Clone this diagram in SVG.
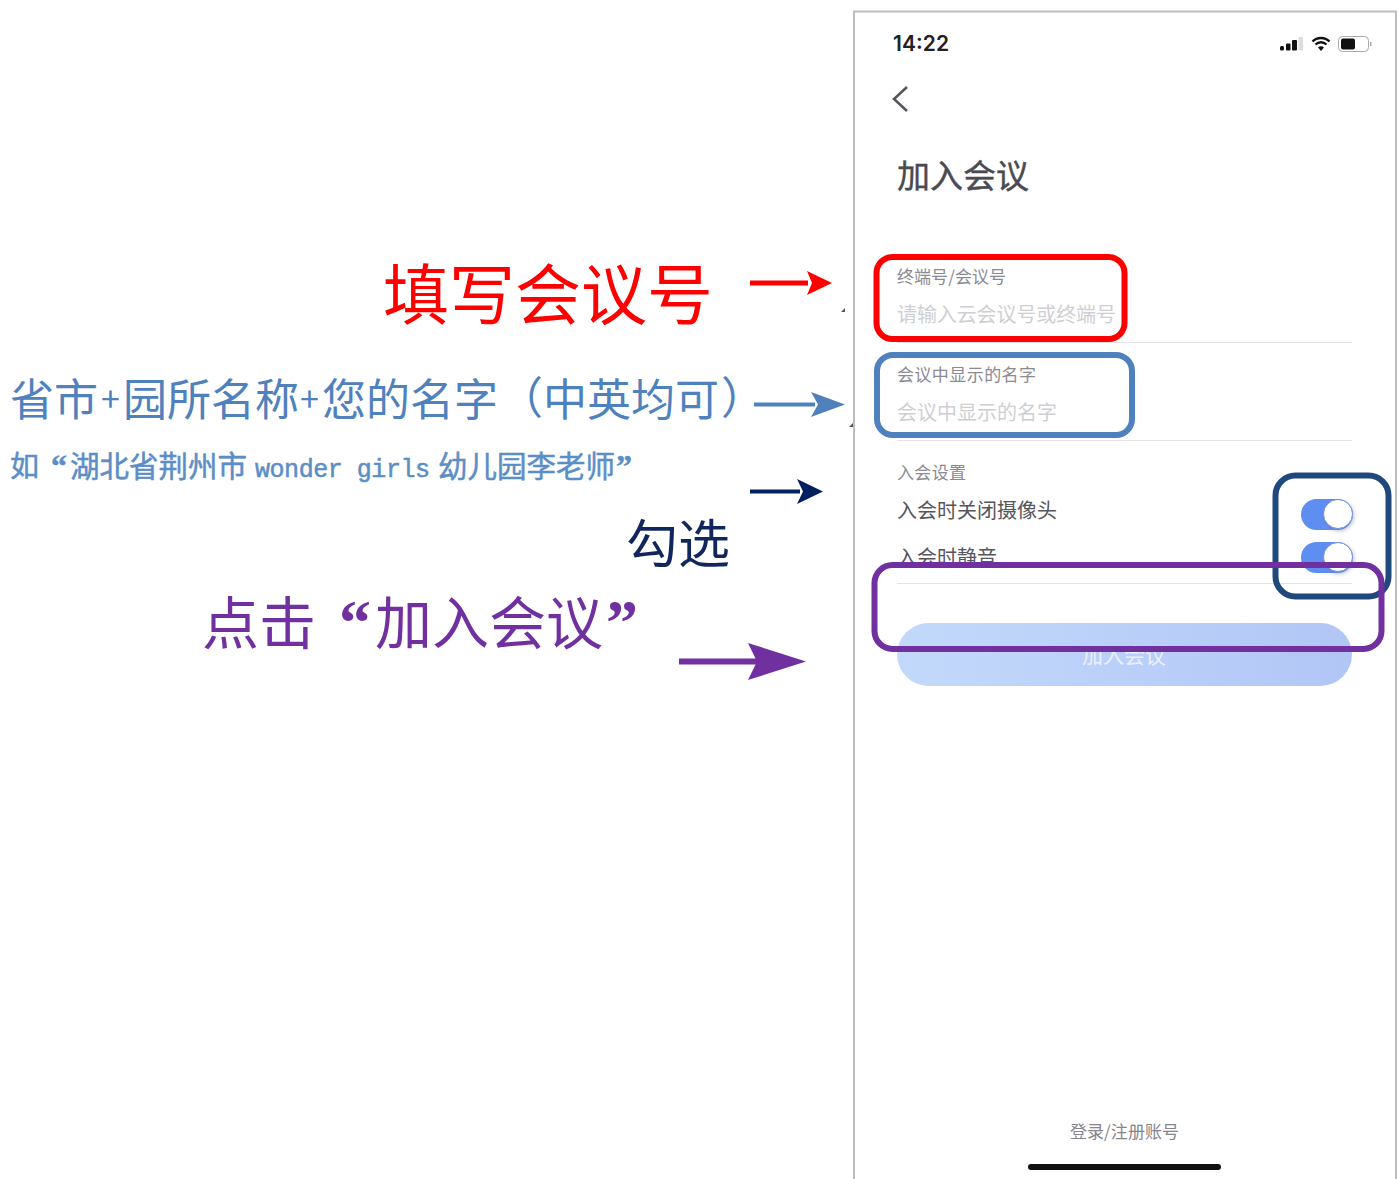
<svg xmlns="http://www.w3.org/2000/svg" width="1400" height="1179" viewBox="0 0 1400 1179">
<style>
text{font-family:"Noto Sans CJK SC","Noto Sans",sans-serif}
.box{fill:none;stroke-width:6}
.rule{stroke:#e4e4e6;stroke-width:1.2}
.lab{font-size:17px;fill:#8a8a90}
.ph{font-size:20px;fill:#cfcfd3}
.row{font-size:20px;fill:#55555c}
.arrow{fill:none;stroke-width:4}
.q{font-family:"Liberation Serif",serif;font-weight:700}
</style>
<defs>
<linearGradient id="btn" x1="0" x2="1" y1="0" y2="0"><stop offset="0" stop-color="#c3d9fb"/><stop offset="1" stop-color="#b2c6f6"/></linearGradient>
<filter id="sh" x="-30%" y="-30%" width="160%" height="160%"><feDropShadow dx="1" dy="2" stdDeviation="2" flood-color="#6a7690" flood-opacity=".45"/></filter>
</defs>
<rect width="1400" height="1179" fill="#fff"/>
<g id="phone">
<path d="M854 1179V11.500H1396V1179" fill="#fff" stroke="#bdbdbd" stroke-width="2"/>
<text x="893" y="51" font-size="21" fill="#222" style="font-family:'Inter','Liberation Sans',sans-serif;font-weight:600" textLength="56">14:22</text>
<g id="status-icons">
<rect x="1280" y="46" width="4" height="4.500" rx="1.500" fill="#111"/><rect x="1286" y="43.500" width="4.500" height="7" rx="1" fill="#111"/><rect x="1292" y="40" width="5" height="10.500" rx="1" fill="#111"/><rect x="1298.500" y="37" width="4.500" height="13.500" rx="1" fill="#ddd"/>
<path d="M1312.500 41.500a12 12 0 0 1 17 0M1315.500 44.500a8 8 0 0 1 11 0" fill="none" stroke="#111" stroke-width="2.400"/><path d="M1318 47.500a4 4 0 0 1 6 0l-3 3.500z" fill="#111"/>
<rect x="1338.500" y="36.500" width="30" height="15" rx="4" fill="#fff" stroke="#aaa"/><rect x="1341" y="38.500" width="14" height="11" rx="2" fill="#111"/><rect x="1370" y="42" width="1.500" height="4" fill="#aaa"/>
</g>
<path d="M907 87 894 99 907 111" fill="none" stroke="#54545a" stroke-width="2.500"/>
<text x="897" y="188" font-size="33" fill="#4a4a52" stroke="#4a4a52" stroke-width=".4">加入会议</text>
</g>
<g id="form">
<text class="lab" x="897" y="283" textLength="109">终端号/会议号</text>
<text class="ph" x="897" y="322" textLength="219">请输入云会议号或终端号</text>
<line class="rule" x1="897" y1="342.500" x2="1352" y2="342.500"/>
<text class="lab" x="897" y="381" textLength="139">会议中显示的名字</text>
<text class="ph" x="897" y="420" textLength="160">会议中显示的名字</text>
<line class="rule" x1="897" y1="440.500" x2="1352" y2="440.500"/>
<text class="lab" x="897" y="479" textLength="69">入会设置</text>
<text class="row" x="897" y="518" textLength="160">入会时关闭摄像头</text>
<text class="row" x="897" y="565" textLength="100">入会时静音</text>
<rect x="880" y="566" width="500" height="17" fill="#fff"/>
<line class="rule" x1="897" y1="583.500" x2="1352" y2="583.500"/>
</g>
<g id="toggle-1"><rect x="1301" y="499" width="52" height="31" rx="15.500" fill="#5f8ef2"/><circle cx="1338" cy="514" r="14.500" fill="#fff" stroke="#6f8fe0" stroke-width="1" filter="url(#sh)"/></g>
<g id="toggle-2"><rect x="1301" y="542" width="52" height="31" rx="15.500" fill="#5f8ef2"/><circle cx="1338" cy="557" r="14.500" fill="#fff" stroke="#6f8fe0" stroke-width="1" filter="url(#sh)"/></g>
<g id="join-button">
<rect x="897" y="623" width="455" height="63" rx="31.500" fill="url(#btn)"/>
<text x="1082" y="663" font-size="21" fill="#e9f0fd">加入会议</text>
</g>
<g id="footer">
<text x="1070" y="1138" font-size="17" fill="#85858b" textLength="109">登录/注册账号</text>
<rect x="1028" y="1164" width="193" height="6" rx="3" fill="#111"/>
</g>
<g id="box-number"><rect class="box" x="876.500" y="257" width="248" height="82" rx="16" stroke="#fe0000"/></g>
<g id="box-name"><rect class="box" x="877" y="355" width="255" height="80" rx="16" stroke="#4f81bd"/></g>
<g id="box-toggles"><rect class="box" x="1275.500" y="475.500" width="113" height="121" rx="20" stroke="#1f497d"/></g>
<g id="box-join"><rect class="box" x="874.500" y="565" width="507" height="84" rx="18" stroke="#7030a0"/></g>
<g id="label-number"><text x="383" y="319" font-size="66" fill="#fe0000">填写会议号</text></g>
<g id="label-name"><text y="416" font-size="44" fill="#4f81bd"><tspan x="10">省市</tspan><tspan x="101" font-size="34" y="412">+</tspan><tspan x="123" y="416">园所名称</tspan><tspan x="300" font-size="34" y="412">+</tspan><tspan x="322" y="416">您的名字</tspan><tspan x="499" y="414">（</tspan><tspan x="543" y="416">中英均可</tspan><tspan x="721" y="414">）</tspan></text></g>
<g id="label-example"><text y="477" font-size="29" fill="#5b8ec6" stroke="#5b8ec6" stroke-width=".5"><tspan x="10">如</tspan><tspan class="q" x="51" font-size="32">“</tspan><tspan x="70" font-size="29.500">湖北省荆州市</tspan><tspan x="255" style="font-family:'Liberation Mono',monospace" font-size="25" textLength="175">wonder girls</tspan><tspan x="438" font-size="29.500">幼儿园李老师</tspan><tspan class="q" x="616" font-size="32">”</tspan></text></g>
<g id="label-check"><text x="626" y="563" font-size="52" fill="#10265c">勾选</text></g>
<g id="label-join"><text y="644" font-size="57" fill="#7030a0"><tspan x="202">点击</tspan><tspan class="q" x="339" font-size="64">“</tspan><tspan x="375">加入会议</tspan><tspan class="q" x="606" font-size="64">”</tspan></text></g>
<g id="connectors">
<path d="M750 283H808" class="arrow" stroke="#fe0000" style="stroke-width:5"/><path d="M832 283 807 271l5 12-5 12z" fill="#fe0000"/>
<path d="M754 404.500H815" class="arrow" stroke="#4f81bd"/><path d="M845 404.500 811 392l7 12.500-7 12.500z" fill="#4f81bd"/>
<path d="M750 491.500H800" class="arrow" stroke="#002060"/><path d="M823 491.500 797 479l6 12.500-6 12.500z" fill="#002060"/>
<path d="M679 661.500H775" class="arrow" stroke="#7030a0" style="stroke-width:6"/><path d="M806 661.500 748 643l9 18.500-9 18.500z" fill="#7030a0"/>
</g>
<path d="M845 308v4h-4z" fill="#555"/><path d="M853 423v4h-4z" fill="#555"/>
</svg>
